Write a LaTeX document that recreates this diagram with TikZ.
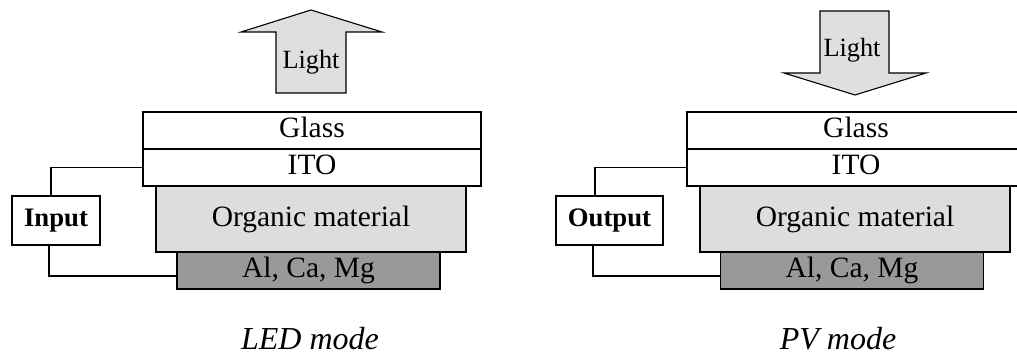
\documentclass[tikz,border=0pt]{standalone}
\usepackage{fontspec}
\setmainfont{Liberation Serif}
\usepackage{tikz}

\begin{document}
\begin{tikzpicture}[x=1pt,y=-1pt,line width=1.1pt,
  layer/.style={draw,inner sep=0pt,text height=20pt,text depth=6pt,font=\fontsize{29.5}{32}\selectfont},
  port/.style={draw,fill=white,inner sep=0pt,minimum height=49pt,font=\fontsize{26.7}{30}\selectfont\bfseries},
  beam/.style={draw,fill=gray!25},
  lighttext/.style={font=\fontsize{26.3}{30}\selectfont},
  modetext/.style={anchor=base,inner sep=0pt,text depth=0pt,font=\fontsize{32}{36}\selectfont\itshape}]
\useasboundingbox (0,0) rectangle (1017,358);
\begin{scope}[shift={(0,0)}]
\draw[beam] (276,93) -- (276,32) -- (241,32) -- (311,10) -- (382,32) -- (346,32) -- (346,93) -- cycle;
\node[lighttext] (lightL) at (311,62) {Light};
\node[layer,fill=white,minimum width=338pt,minimum height=37pt] (glassL) at (312,130.5) {Glass};
\node[layer,fill=white,minimum width=338pt,minimum height=37pt] (itoL) at (312,167.5) {ITO};
\node[layer,fill=gray!27,minimum width=310pt,minimum height=66pt] (orgL) at (311,219) {Organic material};
\node[layer,fill=black!40,minimum width=263pt,minimum height=37pt] (alL) at (308.5,270.5) {Al, Ca, Mg};
\node[port,minimum width=88pt] (inL) at (56,220.5) {Input};
\draw ([xshift=-5pt]inL.north) |- (itoL.west);
\draw ([xshift=-7pt]inL.south) |- ([yshift=-5.5pt]alL.west);
\node[modetext] (modeL) at (310,349) {LED mode};
\end{scope}
\begin{scope}[shift={(544,0)}]
\draw[beam] (276,11) -- (276,73) -- (240,73) -- (311,95) -- (382,73) -- (345,73) -- (345,11) -- cycle;
\node[lighttext] (lightR) at (308,50) {Light};
\node[layer,fill=white,minimum width=338pt,minimum height=37pt] (glassR) at (312,130.5) {Glass};
\node[layer,fill=white,minimum width=338pt,minimum height=37pt] (itoR) at (312,167.5) {ITO};
\node[layer,fill=gray!27,minimum width=310pt,minimum height=66pt] (orgR) at (311,219) {Organic material};
\node[layer,fill=black!40,minimum width=263pt,minimum height=37pt] (alR) at (308,270.5) {Al, Ca, Mg};
\node[port,minimum width=107pt] (outR) at (65.5,220.5) {Output};
\draw ([xshift=-14.5pt]outR.north) |- (itoR.west);
\draw ([xshift=-16.5pt]outR.south) |- ([yshift=-5.5pt]alR.west);
\node[modetext] (modeR) at (294,349) {PV mode};
\end{scope}
\end{tikzpicture}
\end{document}
